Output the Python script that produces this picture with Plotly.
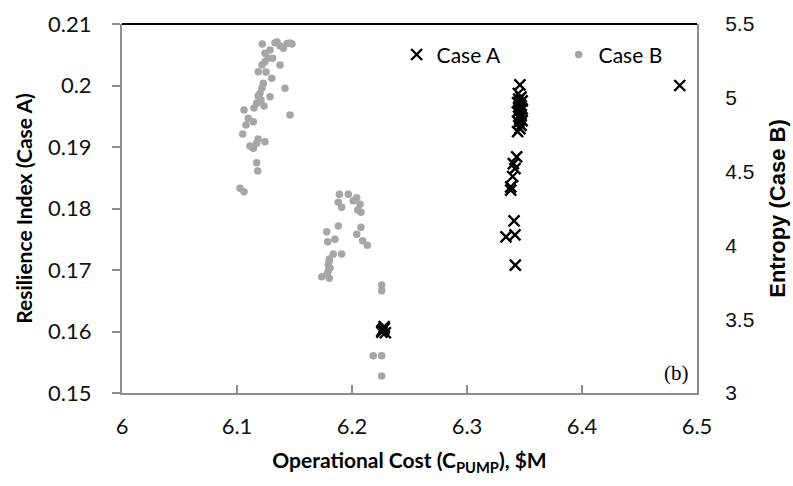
import plotly.graph_objects as go

# Case A: Resilience index vs operational cost
case_a_cost = [6.226, 6.228, 6.229, 6.227, 6.228, 6.226,
               6.346, 6.3446, 6.347, 6.345, 6.348, 6.344, 6.346, 6.347, 6.345,
               6.348, 6.346, 6.344, 6.347, 6.345, 6.346, 6.348, 6.345, 6.347,
               6.346, 6.344,
               6.3432, 6.3403, 6.3417, 6.3397, 6.338, 6.338,
               6.3409, 6.3339, 6.3417, 6.342,
               6.485]
case_a_resil = [0.1601, 0.1605, 0.1598, 0.1603, 0.1608, 0.1599,
                0.2001, 0.1987, 0.1981, 0.1978, 0.1975, 0.1972, 0.1970, 0.1967, 0.1965,
                0.1962, 0.1960, 0.1957, 0.1953, 0.1950, 0.1947, 0.1943, 0.1940, 0.1935,
                0.1930, 0.1925,
                0.1884, 0.1873, 0.1865, 0.1852, 0.1835, 0.1830,
                0.1780, 0.1754, 0.1757, 0.1708,
                0.2000]

# Case B: Entropy vs operational cost
case_b_cost = [6.1220, 6.1330, 6.1287, 6.1243, 6.1403, 6.1310, 6.1243, 6.1374, 6.1185,
               6.1302, 6.1229, 6.1417, 6.1200, 6.1287, 6.1171, 6.1061, 6.1461, 6.1098,
               6.1142, 6.1050, 6.1171, 6.1142, 6.1243, 6.1171, 6.1180, 6.1026, 6.1061,
               6.1435, 6.1478, 6.1374, 6.1270, 6.1217, 6.1252, 6.1217, 6.1183, 6.1209,
               6.1148, 6.1235, 6.1113, 6.1183, 6.1078, 6.1348, 6.1460,
               6.1890, 6.1968, 6.2041, 6.1881, 6.1910, 6.2011, 6.2070, 6.2050, 6.2078,
               6.1881, 6.1780, 6.2078, 6.2041, 6.1852, 6.1789, 6.2093, 6.2133, 6.1910,
               6.1837, 6.1803, 6.1794, 6.1794, 6.1737, 6.1803, 6.1800, 6.1809, 6.1783,
               6.2258, 6.2258, 6.2185, 6.2258, 6.2258]
case_b_entropy = [5.364, 5.373, 5.324, 5.301, 5.335, 5.268, 5.245, 5.222, 5.177,
                  5.132, 5.098, 5.064, 5.030, 5.007, 4.963, 4.917, 4.883, 4.861,
                  4.838, 4.755, 4.692, 4.658, 4.703, 4.560, 4.504, 4.387, 4.364,
                  5.368, 5.364, 5.351, 5.270, 5.222, 5.175, 5.066, 5.012, 4.985,
                  4.931, 4.944, 4.673, 4.721, 4.816, 5.378, 5.371,
                  4.346, 4.346, 4.323, 4.292, 4.258, 4.303, 4.278, 4.240, 4.224,
                  4.131, 4.093, 4.123, 4.075, 4.041, 4.025, 4.032, 4.001, 3.942,
                  3.942, 3.908, 3.867, 3.829, 3.788, 3.777, 3.888, 3.847, 3.806,
                  3.732, 3.693, 3.253, 3.253, 3.115]

x_ticks = [6, 6.1, 6.2, 6.3, 6.4, 6.5]
x_tick_text = ["6", "6.1", "6.2", "6.3", "6.4", "6.5"]
y_ticks = [0.15, 0.16, 0.17, 0.18, 0.19, 0.2, 0.21]
y_tick_text = ["0.15", "0.16", "0.17", "0.18", "0.19", "0.2", "0.21"]
y2_ticks = [3, 3.5, 4, 4.5, 5, 5.5]
y2_tick_text = ["3", "3.5", "4", "4.5", "5", "5.5"]

AXIS_GRAY = "#8c8c8c"
TICK_FONT = dict(family="Lato, Open Sans, sans-serif", size=22, color="#111111")
RIGHT_TICK_FONT = dict(family="Liberation Sans Narrow, Liberation Sans, sans-serif", size=21, color="#111111")
TITLE_FONT = dict(family="Lato, Open Sans, sans-serif", size=21, color="#000000", weight="bold")

fig = go.Figure()
fig.add_trace(go.Scatter(
    x=case_a_cost, y=case_a_resil, mode="markers", name="Case A",
    marker=dict(symbol="x-thin", size=11, color="black",
                line=dict(color="black", width=2.4)),
    yaxis="y",
))
fig.add_trace(go.Scatter(
    x=case_b_cost, y=case_b_entropy, mode="markers", name="Case B",
    marker=dict(symbol="circle", size=7.5, color="#a6a6a6"),
    yaxis="y2",
))

fig.update_layout(
    width=793, height=486,
    margin=dict(l=122, r=96, t=24, b=93, autoexpand=False),
    plot_bgcolor="white", paper_bgcolor="white",
    showlegend=True,
    legend=dict(orientation="h", x=0.4776, y=0.972, xanchor="left", yanchor="top",
                font=dict(family="Lato, Open Sans, sans-serif", size=21, color="#000"),
                bgcolor="rgba(0,0,0,0)", itemwidth=30, tracegroupgap=0,
                entrywidth=117, entrywidthmode="pixels"),
    xaxis=dict(range=[6, 6.5], tickvals=x_ticks, ticktext=x_tick_text,
               showgrid=False, zeroline=False, showline=True, linecolor=AXIS_GRAY,
               linewidth=2, ticks="inside", ticklen=8, tickcolor=AXIS_GRAY, tickwidth=1.5,
               tickfont=TICK_FONT, ticklabelstandoff=13,
               title=dict(text="Operational Cost (C<sub>PUMP</sub>), $M", font=TITLE_FONT,
                          standoff=15)),
    yaxis=dict(range=[0.15, 0.21], tickvals=y_ticks, ticktext=y_tick_text,
               showgrid=False, zeroline=False, showline=True, linecolor=AXIS_GRAY,
               linewidth=2, ticks="outside", ticklen=8, tickcolor=AXIS_GRAY, tickwidth=1.5,
               tickfont=TICK_FONT, ticklabelstandoff=16,
               title=dict(text="Resilience Index (Case A)", font=TITLE_FONT, standoff=10)),
    yaxis2=dict(range=[3, 5.5], tickvals=y2_ticks, ticktext=y2_tick_text,
                overlaying="y", side="right",
                showgrid=False, zeroline=False, showline=True, linecolor=AXIS_GRAY,
                linewidth=2, ticks="", tickfont=RIGHT_TICK_FONT, ticklabelstandoff=22,
                title=dict(text="Entropy (Case B)", font=dict(family="Liberation Sans Narrow, Liberation Sans, sans-serif",
                                                             size=22, color="#000", weight="bold"),
                           standoff=16)),
    shapes=[dict(type="line", xref="paper", yref="paper", x0=0, x1=1, y0=1, y1=1,
                 line=dict(color="black", width=2))],
    annotations=[dict(text="(b)", xref="paper", yref="paper", x=0.965, y=0.055,
                      showarrow=False, xanchor="center", yanchor="middle",
                      font=dict(family="Liberation Serif, serif", size=21, color="#000"))],
)

fig.write_html("out.html")
